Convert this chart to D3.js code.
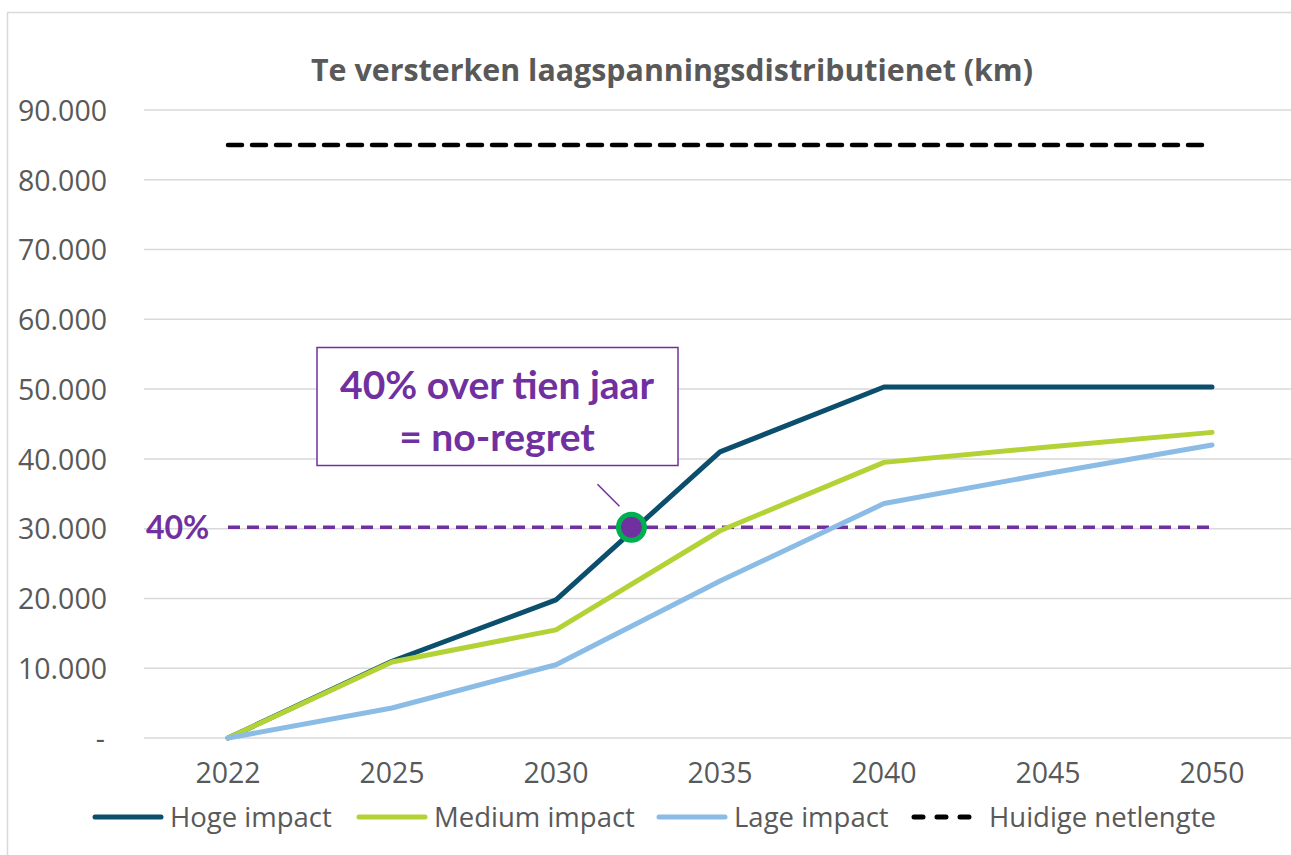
<!DOCTYPE html>
<html>
<head>
<meta charset="utf-8">
<script src="https://cdn.jsdelivr.net/npm/d3@7"></script>
<style>
  body { margin: 0; background: #fff; }
  text { font-family: "Open Sans", sans-serif; }
</style>
</head>
<body>
<svg id="chart" width="1291" height="855"></svg>
<script>
// données du graphique
const jaren = ["2022", "2025", "2030", "2035", "2040", "2045", "2050"];
const hoge = [0, 11000, 19800, 41000, 50300, 50300, 50300];
const medium = [0, 10900, 15500, 29700, 39500, 41700, 43800];
const lage = [0, 4300, 10500, 22500, 33600, 37900, 42000];
const netlengte = [85000, 85000, 85000, 85000, 85000, 85000, 85000];
const noRegret = 30200;
const yTicks = [0, 10000, 20000, 30000, 40000, 50000, 60000, 70000, 80000, 90000];

const series = [
  {naam: "Hoge impact", values: hoge, kleur: "#0b4f6c", dash: null},
  {naam: "Medium impact", values: medium, kleur: "#b3d235", dash: null},
  {naam: "Lage impact", values: lage, kleur: "#8bbce6", dash: null},
  {naam: "Huidige netlengte", values: netlengte, kleur: "#000000", dash: "14,10"}
];

const svg = d3.select("#chart");

// cadre
svg.append("rect")
  .attr("x", 7.5).attr("y", 12.5)
  .attr("width", 1300).attr("height", 900)
  .attr("fill", "none").attr("stroke", "#d9d9d9").attr("stroke-width", 1.5);

const x = d3.scaleBand().domain(jaren).range([146, 1294]);
const y = d3.scaleLinear().domain([0, 90000]).range([738, 110]);
const cx = d => x(d) + x.bandwidth() / 2;

// titre
svg.append("text")
  .attr("x", 672).attr("y", 81)
  .attr("text-anchor", "middle")
  .style("font-weight", "bold")
  .style("font-size", "29.5px")
  .attr("fill", "#595959")
  .attr("textLength", 722)
  .attr("lengthAdjust", "spacingAndGlyphs")
  .text("Te versterken laagspanningsdistributienet (km)");

// grille
svg.append("g")
  .selectAll("line")
  .data(yTicks)
  .join("line")
  .attr("x1", 144).attr("x2", 1291)
  .attr("y1", d => y(d)).attr("y2", d => y(d))
  .attr("stroke", "#d9d9d9").attr("stroke-width", 1.5);

// axe y
const yAxis = d3.axisLeft(y)
  .tickValues(yTicks)
  .tickSize(0)
  .tickPadding(0)
  .tickFormat(d => d === 0 ? "-" : d3.format(",")(d).replace(/,/g, "."));
const gy = svg.append("g").attr("transform", "translate(107,0)").call(yAxis);
gy.select(".domain").remove();
gy.selectAll("text")
  .style("font-size", "28.5px")
  .attr("fill", "#595959")
  .attr("dy", "0.36em");
gy.selectAll(".tick").filter(d => d === 0).select("text").attr("dx", "-2px");

// axe x
const xAxis = d3.axisBottom(x).tickSize(0).tickPadding(0);
const gx = svg.append("g").attr("transform", "translate(0,763)").call(xAxis);
gx.select(".domain").remove();
gx.selectAll("text")
  .style("font-size", "28.5px")
  .attr("fill", "#595959")
  .attr("dy", "0.71em");

// ligne 40%
svg.append("line")
  .attr("x1", cx(jaren[0])).attr("x2", cx(jaren[jaren.length - 1]))
  .attr("y1", y(noRegret)).attr("y2", y(noRegret))
  .attr("stroke", "#7030a0").attr("stroke-width", 3.5)
  .attr("stroke-dasharray", "12,7");

svg.append("text")
  .attr("x", 146).attr("y", y(noRegret))
  .attr("dy", "0.36em")
  .style("font-family", "Lato, sans-serif")
  .style("font-weight", "bold")
  .style("font-size", "32px")
  .attr("fill", "#7030a0")
  .text("40%");

// séries
const line = d3.line()
  .x((d, i) => cx(jaren[i]))
  .y(d => y(d));

svg.append("g")
  .selectAll("path")
  .data(series)
  .join("path")
  .attr("d", d => line(d.values))
  .attr("fill", "none")
  .attr("stroke", d => d.kleur)
  .attr("stroke-width", d => d.dash ? 4.5 : 5)
  .attr("stroke-linecap", "round")
  .attr("stroke-linejoin", "round")
  .attr("stroke-dasharray", d => d.dash);

// point où Hoge impact croise 40%
const i0 = hoge.findIndex(v => v >= noRegret) - 1;
const frac = (noRegret - hoge[i0]) / (hoge[i0 + 1] - hoge[i0]);
const px = cx(jaren[i0]) + frac * (cx(jaren[i0 + 1]) - cx(jaren[i0])) - 5;
const py = y(noRegret);

svg.append("line")
  .attr("x1", px - 34).attr("y1", py - 43)
  .attr("x2", px - 12).attr("y2", py - 21)
  .attr("stroke", "#7030a0").attr("stroke-width", 1.5);

svg.append("circle")
  .attr("cx", px).attr("cy", py).attr("r", 13)
  .attr("fill", "#7030a0")
  .attr("stroke", "#00b050").attr("stroke-width", 5);

// annotation
svg.append("rect")
  .attr("x", 317).attr("y", 347.5)
  .attr("width", 361).attr("height", 118)
  .attr("fill", "#fff")
  .attr("stroke", "#7030a0").attr("stroke-width", 1.5);

const annot = ["40% over tien jaar", "= no-regret"];
svg.append("g")
  .selectAll("text")
  .data(annot)
  .join("text")
  .attr("x", 497)
  .attr("y", (d, i) => 399 + i * 52)
  .attr("text-anchor", "middle")
  .style("font-family", "Lato, sans-serif")
  .style("font-weight", "bold")
  .style("font-size", "39px")
  .attr("fill", "#7030a0")
  .text(d => d);

// légende
const legendX = [93, 357, 657, 912];
const leg = svg.append("g")
  .selectAll("g")
  .data(series)
  .join("g")
  .attr("transform", (d, i) => `translate(${legendX[i]},817)`);

leg.append("line")
  .attr("x1", 2).attr("x2", 68)
  .attr("stroke", d => d.kleur)
  .attr("stroke-width", 5)
  .attr("stroke-linecap", "round")
  .attr("stroke-dasharray", d => d.dash ? "9,14" : null);

leg.append("text")
  .attr("x", 77)
  .attr("dy", "0.35em")
  .style("font-size", "27.5px")
  .attr("fill", "#595959")
  .text(d => d.naam);
</script>
</body>
</html>
